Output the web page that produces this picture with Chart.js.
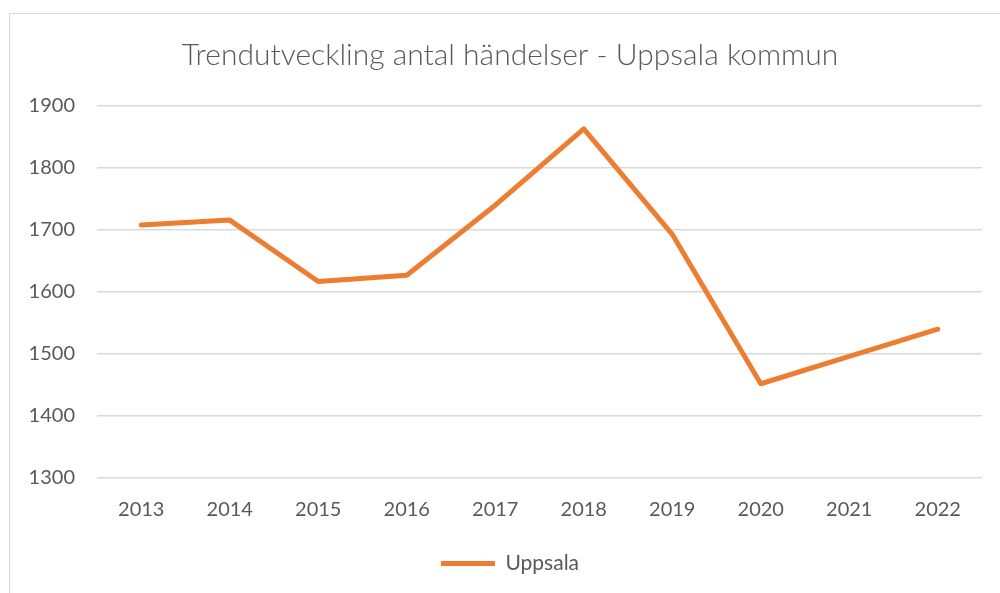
<!DOCTYPE html>
<html>
<head>
<meta charset="utf-8">
<script src="https://cdn.jsdelivr.net/npm/chart.js@4/dist/chart.umd.min.js"></script>
<style>
  html, body { margin: 0; padding: 0; background: #fff; }
  body { width: 1000px; height: 593px; position: relative; overflow: hidden; }
  #frame { position: absolute; left: 9px; top: 13px; width: 1100px; height: 700px; border: 1px solid #d9d9d9; box-sizing: border-box; }
  #wrap { position: absolute; left: 0; top: 0; width: 1020px; height: 593px; }
</style>
</head>
<body>
<div id="frame"></div>
<div id="wrap"><canvas id="c" width="1020" height="593"></canvas></div>
<script>
const titleText = 'Trendutveckling antal händelser - Uppsala kommun';
const years = ['2013','2014','2015','2016','2017','2018','2019','2020','2021','2022'];
const seriesName = 'Uppsala';
const uppsala = [1708, 1716, 1617, 1627, 1740, 1863, 1693, 1452, 1496, 1540];
const yMin = 1300, yMax = 1900, yStep = 100;

const textColor = '#595959';
const gridColor = '#d9d9d9';
const lineColor = '#ed7d31';
const fontFamily = 'Lato, "Open Sans", sans-serif';

new Chart(document.getElementById('c'), {
  type: 'line',
  data: {
    labels: years,
    datasets: [{
      label: seriesName,
      data: uppsala,
      yAxisID: 'y',
      borderColor: lineColor,
      backgroundColor: lineColor,
      borderWidth: 5,
      borderCapStyle: 'round',
      borderJoinStyle: 'round',
      pointRadius: 0,
      pointHoverRadius: 0,
      tension: 0,
      fill: false
    }]
  },
  options: {
    responsive: false,
    animation: false,
    events: [],
    layout: { padding: { left: 0, right: 0, top: 19, bottom: 9 } },
    plugins: {
      tooltip: { enabled: false },
      title: {
        display: true,
        text: titleText,
        color: textColor,
        font: { family: fontFamily, size: 30, weight: '300', lineHeight: 1.2 },
        padding: { top: 18, bottom: 33 }
      },
      legend: {
        display: true,
        position: 'bottom',
        labels: {
          color: textColor,
          font: { family: fontFamily, size: 21 },
          usePointStyle: true,
          pointStyle: 'line',
          pointStyleWidth: 54,
          boxHeight: 10,
          padding: 10
        }
      }
    },
    scales: {
      x: {
        offset: true,
        grid: { display: false, drawTicks: false },
        border: { display: false },
        ticks: { color: textColor, font: { family: fontFamily, size: 20 }, padding: 20, maxRotation: 0 },
        afterFit: (s) => { s.height = 65; }
      },
      y: {
        position: 'left',
        min: yMin, max: yMax,
        grid: { color: gridColor, lineWidth: 1.5, drawTicks: false },
        border: { display: false },
        ticks: { stepSize: yStep, color: textColor, font: { family: fontFamily, size: 20 }, padding: 22,
                 callback: (v) => String(v) },
        afterFit: (s) => { s.width = 97; }
      },
      yRight: {
        position: 'right',
        display: true,
        grid: { display: false, drawTicks: false },
        border: { display: false },
        ticks: { display: false },
        afterFit: (s) => { s.width = 38; }
      }
    }
  }
});
</script>
</body>
</html>
